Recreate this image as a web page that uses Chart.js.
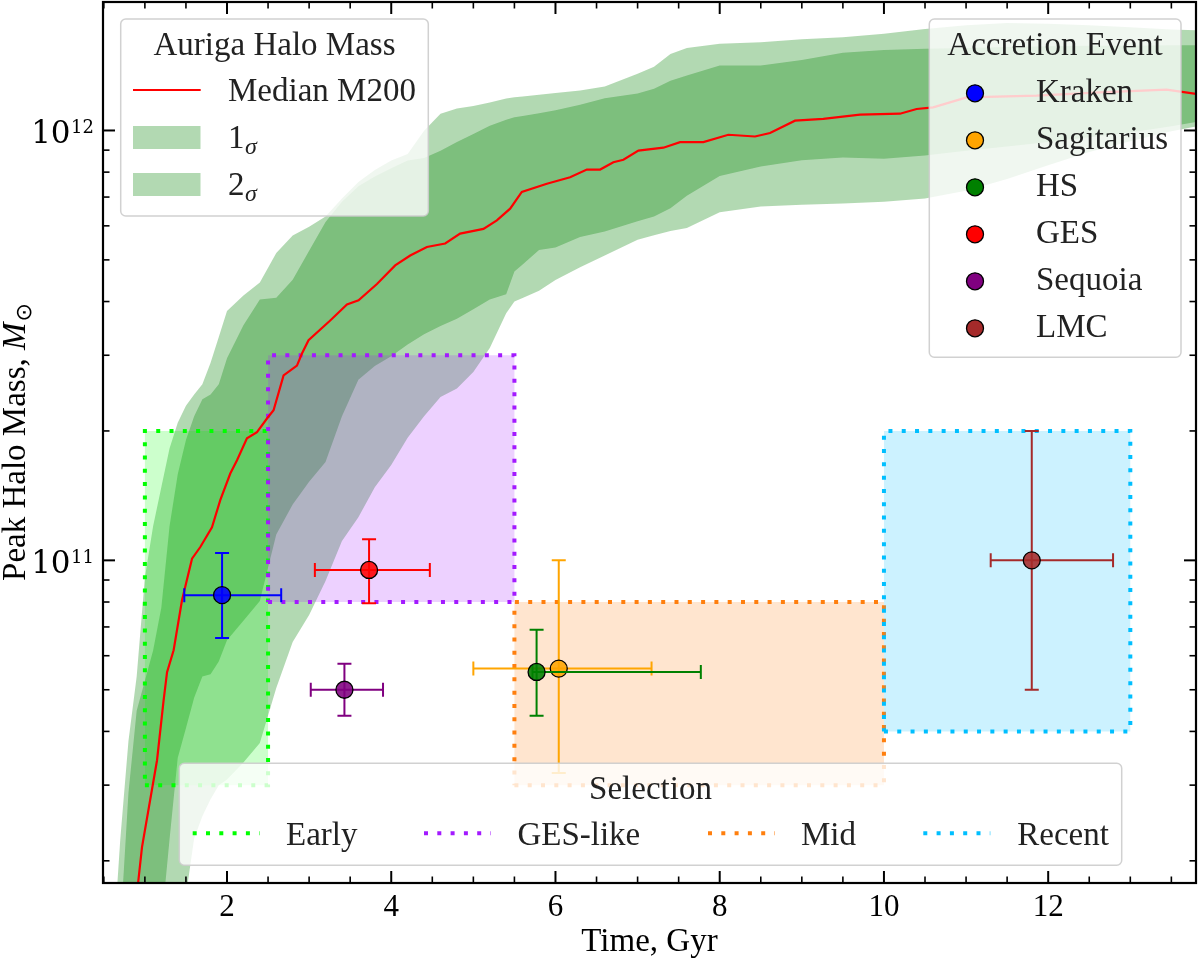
<!DOCTYPE html>
<html><head><meta charset="utf-8">
<script src="https://cdn.jsdelivr.net/npm/chart.js@4.4.1/dist/chart.umd.min.js"></script>
<style>html,body{margin:0;padding:0;background:#fff;}canvas{display:block;}</style>
</head><body>
<canvas id="c" width="1200" height="960"></canvas>
<script>
// ---------------- data ----------------
const bandTime = [0.5,0.6,0.7,0.8,0.9,1.0,1.1,1.2,1.3,1.4,1.5,1.6,1.7,1.8,1.9,2.0,
  2.2,2.4,2.6,2.8,3.0,3.2,3.4,3.6,3.8,4.0,4.2,4.4,4.6,4.8,5.0,5.2,5.4,
  5.5,5.6,5.8,6.0,6.3,6.6,7.0,7.2,7.4,7.6,8.0,
  8.5,9.0,9.5,10.0,10.5,11.0,11.5,12.0,12.5,13.0,13.5,13.8];
const sigma2Upper = [6.31e9,1.15e10,2.24e10,3.80e10,5.37e10,9.12e10,1.20e11,1.48e11,1.82e11,2.09e11,2.29e11,2.43e11,2.57e11,2.88e11,3.31e11,3.80e11,
  4.13e11,4.43e11,5.19e11,5.70e11,5.97e11,6.31e11,6.95e11,7.59e11,8.09e11,8.51e11,8.81e11,9.98e11,1.094e12,1.125e12,1.140e12,1.161e12,1.186e12,
  1.194e12,1.199e12,1.211e12,1.222e12,1.239e12,1.265e12,1.355e12,1.406e12,1.507e12,1.556e12,1.592e12,
  1.603e12,1.629e12,1.648e12,1.679e12,1.722e12,1.758e12,1.778e12,1.770e12,1.758e12,1.738e12,1.718e12,1.710e12];
const sigma1Upper = [3.55e9,7.08e9,1.38e10,2.88e10,4.47e10,5.25e10,6.17e10,7.76e10,1.20e11,1.585e11,1.905e11,2.163e11,2.371e11,2.432e11,2.570e11,2.951e11,
  3.524e11,4.046e11,4.083e11,4.498e11,5.248e11,6.124e11,6.823e11,7.413e11,7.816e11,8.166e11,8.511e11,8.630e11,8.974e11,9.397e11,9.817e11,1.026e12,1.059e12,
  1.074e12,1.081e12,1.096e12,1.114e12,1.148e12,1.189e12,1.219e12,1.250e12,1.306e12,1.343e12,1.416e12,
  1.416e12,1.459e12,1.517e12,1.538e12,1.549e12,1.556e12,1.563e12,1.570e12,1.574e12,1.574e12,1.578e12,1.578e12];
const sigma1Lower = [7.94e8,1.00e9,2.00e9,3.16e9,5.01e9,7.08e9,1.00e10,1.41e10,2.24e10,3.47e10,4.07e10,4.79e10,5.37e10,5.43e10,5.82e10,6.52e10,
  7.24e10,8.04e10,1.148e11,1.349e11,1.524e11,1.694e11,2.163e11,2.630e11,2.831e11,2.985e11,3.177e11,3.357e11,3.508e11,3.648e11,3.837e11,4.046e11,4.159e11,
  4.699e11,4.875e11,5.272e11,5.346e11,5.649e11,5.821e11,6.152e11,6.310e11,6.592e11,7.047e11,7.834e11,
  8.241e11,8.531e11,8.650e11,8.590e11,8.750e11,8.974e11,9.183e11,9.397e11,9.638e11,9.886e11,1.023e12,1.047e12];
const sigma2Lower = [3.16e8,3.98e8,5.01e8,6.31e8,7.94e8,1.00e9,1.58e9,2.51e9,5.01e9,8.91e9,1.66e10,2.254e10,2.541e10,2.780e10,3.000e10,3.090e10,
  3.388e10,3.758e10,5.047e10,6.457e10,7.464e10,8.954e10,1.109e11,1.259e11,1.479e11,1.667e11,1.928e11,2.163e11,2.399e11,2.512e11,2.742e11,3.119e11,3.758e11,
  3.999e11,4.074e11,4.236e11,4.487e11,4.808e11,5.117e11,5.572e11,5.702e11,5.834e11,5.929e11,6.457e11,
  6.653e11,6.714e11,6.761e11,6.823e11,6.950e11,7.244e11,7.709e11,8.299e11,8.913e11,9.441e11,9.954e11,1.021e12];

const medianTime = [0.88,0.917,0.965,1.148,1.228,1.270,1.350,1.452,1.574,1.675,1.817,1.918,2.040,2.122,2.243,2.365,2.487,2.567,2.689,2.852,2.913,2.993,
  3.257,3.461,3.602,3.826,4.048,4.231,4.434,4.657,4.839,5.123,5.286,5.448,5.590,5.895,6.178,6.382,6.544,6.705,6.827,7.010,7.314,7.517,7.801,
  8.105,8.430,8.613,8.917,9.261,9.708,10.195,10.398,10.600,11.007,11.859,12.629,13.441,13.806];
const medianMass = [1.53e10,1.774e10,2.153e10,3.428e10,4.721e10,5.495e10,6.180e10,8.072e10,1.009e11,1.074e11,1.194e11,1.380e11,1.592e11,1.710e11,1.923e11,1.986e11,2.138e11,2.234e11,2.692e11,2.838e11,3.027e11,3.251e11,
  3.614e11,3.936e11,4.027e11,4.395e11,4.853e11,5.117e11,5.358e11,5.458e11,5.754e11,5.902e11,6.180e11,6.577e11,7.194e11,7.516e11,7.780e11,8.110e11,8.110e11,8.433e11,8.551e11,8.974e11,9.120e11,9.397e11,9.397e11,
  9.772e11,9.683e11,9.863e11,1.054e12,1.064e12,1.089e12,1.094e12,1.122e12,1.132e12,1.194e12,1.205e12,1.227e12,1.245e12,1.216e12];

const eventNames  = ['Kraken','Sagitarius','HS','GES','Sequoia','LMC'];
const eventColors = ['#0000ff','#ffa500','#008000','#ff0000','#800080','#a52a2a'];
const eventTime   = [1.94, 6.04, 5.77, 3.73, 3.43, 11.80];
const eventTimeLo = [1.48, 5.00, 5.72, 3.07, 3.02, 11.30];
const eventTimeHi = [2.66, 7.17, 7.77, 4.47, 3.90, 12.79];
const eventMass   = [8.3e10, 5.6e10, 5.5e10, 9.5e10, 5.0e10, 1.0e11];
const eventMassLo = [6.6e10, 3.2e10, 4.35e10, 7.95e10, 4.35e10, 5.0e10];
const eventMassHi = [1.04e11, 1.0e11, 6.9e10, 1.12e11, 5.75e10, 2.0e11];

const selNames   = ['Early','GES-like','Mid','Recent'];
const selColors  = ['#00ff00','#a31aff','#ff7f0e','#00bfff'];
const selTimeLo  = [1.0, 2.5, 5.5, 10.0];
const selTimeHi  = [2.5, 5.5, 10.0, 13.0];
const selMassLo  = [3e10, 8e10, 3e10, 4e10];
const selMassHi  = [2e11, 3e11, 8e10, 2e11];

const xMajorTicks = [2,4,6,8,10,12];
const xTickLabels = ['2','4','6','8','10','12'];
const xMinorTicks = [0.5,1,1.5,2.5,3,3.5,4.5,5,5.5,6.5,7,7.5,8.5,9,9.5,10.5,11,11.5,12.5,13,13.5];
const yMajorTicks = [1e11,1e12];
const yTickExponents = ['11','12'];
const yMinorTicks = [2e10,3e10,4e10,5e10,6e10,7e10,8e10,9e10,2e11,3e11,4e11,5e11,6e11,7e11,8e11,9e11];

// ---------------- helpers ----------------
function rgba(hex,a){const n=parseInt(hex.slice(1),16);return `rgba(${n>>16&255},${n>>8&255},${n&255},${a})`;}
function pts(xs,ys){return xs.map((v,i)=>({x:v,y:ys[i]}));}
const SERIF='"Liberation Serif","Times New Roman",serif';

const datasets = [];
datasets.push({label:'2σ',data:pts(bandTime,sigma2Upper),fill:1,backgroundColor:'rgba(0,128,0,0.3)',borderWidth:0,pointRadius:0,order:50});
datasets.push({label:'2σ low',data:pts(bandTime,sigma2Lower),fill:false,borderWidth:0,pointRadius:0,order:49});
datasets.push({label:'1σ',data:pts(bandTime,sigma1Upper),fill:3,backgroundColor:'rgba(0,128,0,0.3)',borderWidth:0,pointRadius:0,order:48});
datasets.push({label:'1σ low',data:pts(bandTime,sigma1Lower),fill:false,borderWidth:0,pointRadius:0,order:47});
selNames.forEach((n,i)=>{
  datasets.push({label:n,data:[
      {x:selTimeLo[i],y:selMassLo[i]},{x:selTimeHi[i],y:selMassLo[i]},
      {x:selTimeHi[i],y:selMassHi[i]},{x:selTimeLo[i],y:selMassHi[i]},
      {x:selTimeLo[i],y:selMassLo[i]}],
    fill:'shape',backgroundColor:rgba(selColors[i],0.2),borderColor:selColors[i],borderWidth:4,
    borderDash:[4,9.3],borderCapStyle:'butt',pointRadius:0,order:40-i,clip:0});
});
datasets.push({label:'Median M200',data:pts(medianTime,medianMass),fill:false,borderColor:'#ff0000',borderWidth:2.2,pointRadius:0,order:30});
eventNames.forEach((n,i)=>{
  datasets.push({label:n,data:[{x:eventTime[i],y:eventMass[i]}],showLine:false,eventIndex:i,
    pointRadius:8.5,pointBackgroundColor:rgba(eventColors[i],0.88),pointBorderColor:'#000',pointBorderWidth:1.3,order:10-i});
});

const errorBarPlugin = {
  id:'errbars',
  beforeDatasetDraw(chart,args){
    const ds = chart.data.datasets[args.index];
    if (ds.eventIndex===undefined) return;
    const i = ds.eventIndex, X = chart.scales.x, Y = chart.scales.y, ctx = chart.ctx, a = chart.chartArea;
    const cx = X.getPixelForValue(eventTime[i]), cy = Y.getPixelForValue(eventMass[i]);
    const x0 = X.getPixelForValue(eventTimeLo[i]), x1 = X.getPixelForValue(eventTimeHi[i]);
    const y0 = Y.getPixelForValue(eventMassLo[i]), y1 = Y.getPixelForValue(eventMassHi[i]);
    const cap = 7;
    ctx.save();
    ctx.beginPath(); ctx.rect(a.left,a.top,a.right-a.left,a.bottom-a.top); ctx.clip();
    ctx.strokeStyle = eventColors[i]; ctx.lineWidth = 2; ctx.lineCap='butt';
    ctx.beginPath();
    ctx.moveTo(x0,cy); ctx.lineTo(x1,cy);
    ctx.moveTo(cx,y0); ctx.lineTo(cx,y1);
    ctx.moveTo(x0,cy-cap); ctx.lineTo(x0,cy+cap);
    ctx.moveTo(x1,cy-cap); ctx.lineTo(x1,cy+cap);
    ctx.moveTo(cx-cap,y0); ctx.lineTo(cx+cap,y0);
    ctx.moveTo(cx-cap,y1); ctx.lineTo(cx+cap,y1);
    ctx.stroke();
    ctx.restore();
  }
};

function rr(ctx,x,y,w,h,r){ctx.beginPath();ctx.moveTo(x+r,y);ctx.lineTo(x+w-r,y);ctx.arcTo(x+w,y,x+w,y+r,r);ctx.lineTo(x+w,y+h-r);ctx.arcTo(x+w,y+h,x+w-r,y+h,r);ctx.lineTo(x+r,y+h);ctx.arcTo(x,y+h,x,y+h-r,r);ctx.lineTo(x,y+r);ctx.arcTo(x,y,x+r,y,r);ctx.closePath();}
function frame(ctx,x,y,w,h){rr(ctx,x,y,w,h,5);ctx.fillStyle='rgba(255,255,255,0.8)';ctx.fill();ctx.strokeStyle='rgba(204,204,204,0.9)';ctx.lineWidth=1.5;ctx.setLineDash([]);ctx.stroke();}

const axesPlugin = {
  id:'axesDecor',
  afterDatasetsDraw(chart){
    const ctx = chart.ctx, a = chart.chartArea, X = chart.scales.x, Y = chart.scales.y;
    ctx.save();
    ctx.strokeStyle='#000'; ctx.lineCap='butt';
    const seg=(x1,y1,x2,y2,w)=>{ctx.lineWidth=w;ctx.beginPath();ctx.moveTo(x1,y1);ctx.lineTo(x2,y2);ctx.stroke();};
    xMinorTicks.forEach(v=>{const p=X.getPixelForValue(v);seg(p,a.bottom,p,a.bottom-6.5,1.6);seg(p,a.top,p,a.top+6.5,1.6);});
    xMajorTicks.forEach(v=>{const p=X.getPixelForValue(v);seg(p,a.bottom,p,a.bottom-12,2);seg(p,a.top,p,a.top+12,2);});
    yMinorTicks.forEach(v=>{const p=Y.getPixelForValue(v);seg(a.left,p,a.left+6.5,p,1.6);seg(a.right,p,a.right-6.5,p,1.6);});
    yMajorTicks.forEach(v=>{const p=Y.getPixelForValue(v);seg(a.left,p,a.left+12,p,2);seg(a.right,p,a.right-12,p,2);});
    ctx.lineWidth=2.2; ctx.strokeRect(a.left,a.top,a.right-a.left,a.bottom-a.top);
    // tick labels
    ctx.fillStyle='#000';
    ctx.font='31px '+SERIF; ctx.textAlign='center'; ctx.textBaseline='alphabetic';
    xMajorTicks.forEach((v,i)=>ctx.fillText(xTickLabels[i],X.getPixelForValue(v),a.bottom+33));
    yMajorTicks.forEach((v,i)=>{
      const p=Y.getPixelForValue(v);
      ctx.textAlign='right';
      ctx.font='18px "DejaVu Serif",serif';
      const ew=ctx.measureText(yTickExponents[i]).width;
      const right=a.left-9;
      ctx.fillText(yTickExponents[i],right,p+2.5);
      ctx.font='31px "DejaVu Serif",serif';
      ctx.fillText('10',right-ew-0.5,p+13);
    });
    // axis titles
    ctx.textAlign='center'; ctx.font='33px '+SERIF;
    ctx.fillText('Time, Gyr',(a.left+a.right)/2,951);
    ctx.save();
    ctx.translate(25,(a.top+a.bottom)/2); ctx.rotate(-Math.PI/2);
    ctx.textAlign='left';
    const t1='Peak Halo Mass, ';
    ctx.font='33px '+SERIF; const w1=ctx.measureText(t1).width;
    ctx.font='italic 33px '+SERIF; const w2=ctx.measureText('M').width;
    ctx.font='22px "DejaVu Sans",sans-serif'; const w3=ctx.measureText('\u2299').width;
    let sx=-(w1+w2+w3)/2;
    ctx.font='33px '+SERIF; ctx.fillText(t1,sx,0); sx+=w1;
    ctx.font='italic 33px '+SERIF; ctx.fillText('M',sx,0); sx+=w2;
    ctx.font='22px "DejaVu Sans",sans-serif'; ctx.fillText('\u2299',sx+1,6);
    ctx.restore();
    ctx.restore();
  },
  afterDraw(chart){
    const ctx=chart.ctx;
    ctx.save();
    const txt='#222';
    // Legend 1 : Auriga Halo Mass
    frame(ctx,120.7,19,307.6,197);
    ctx.fillStyle=txt; ctx.textAlign='center'; ctx.font='33px '+SERIF;
    ctx.fillText('Auriga Halo Mass',274.5,55);
    ctx.strokeStyle='#ff0000'; ctx.lineWidth=2.2; ctx.beginPath(); ctx.moveTo(133,90); ctx.lineTo(200.7,90); ctx.stroke();
    ctx.fillStyle='rgba(0,128,0,0.3)'; ctx.fillRect(133,126,67.5,23); ctx.fillRect(133,173,67.5,23);
    ctx.fillStyle=txt; ctx.textAlign='left';
    ctx.fillText('Median M200',228,101);
    [['1',147.5],['2',194.5]].forEach(([d,b])=>{
      ctx.font='33px '+SERIF; ctx.fillText(d,228,b); const w=ctx.measureText(d).width;
      ctx.font='italic 24px '+SERIF; ctx.fillText('\u03c3',228+w+0.5,b+6);
    });
    // Legend 2 : Accretion Event
    frame(ctx,929.3,19,251.7,338.3);
    ctx.fillStyle=txt; ctx.textAlign='center'; ctx.font='33px '+SERIF;
    ctx.fillText('Accretion Event',1055,55);
    ctx.textAlign='left';
    eventNames.forEach((n,i)=>{
      const yy=93.3+i*47;
      ctx.beginPath(); ctx.arc(975,yy,8.5,0,Math.PI*2); ctx.fillStyle=eventColors[i]; ctx.fill();
      ctx.lineWidth=1.3; ctx.strokeStyle='#000'; ctx.stroke();
      ctx.fillStyle=txt; ctx.font='33px '+SERIF; ctx.fillText(n,1036,yy+8.7);
    });
    // Legend 3 : Selection
    frame(ctx,179.3,763.3,942.4,102);
    ctx.fillStyle=txt; ctx.textAlign='center'; ctx.font='33px '+SERIF;
    ctx.fillText('Selection',650.5,798.5);
    const sx0=[192.7,424,708,923.3], tx=[286,517.4,801,1017.3];
    ctx.textAlign='left';
    selNames.forEach((n,i)=>{
      ctx.strokeStyle=selColors[i]; ctx.lineWidth=4; ctx.lineCap='butt'; ctx.setLineDash([4,9.3]);
      ctx.beginPath(); ctx.moveTo(sx0[i],833.3); ctx.lineTo(sx0[i]+67,833.3); ctx.stroke();
      ctx.setLineDash([]);
      ctx.fillStyle=txt; ctx.fillText(n,tx[i],845);
    });
    ctx.restore();
  }
};

new Chart(document.getElementById('c'),{
  type:'line',
  data:{datasets},
  options:{
    responsive:false, animation:false, events:[], devicePixelRatio:1,
    layout:{autoPadding:false,padding:{left:103,top:2,right:4,bottom:77}},
    scales:{
      x:{type:'linear',min:0.49,max:13.8,display:false},
      y:{type:'logarithmic',min:1.776e10,max:1.99e12,display:false}
    },
    plugins:{legend:{display:false},tooltip:{enabled:false},filler:{propagate:false}},
    elements:{line:{tension:0}}
  },
  plugins:[errorBarPlugin,axesPlugin]
});
</script>
</body></html>
